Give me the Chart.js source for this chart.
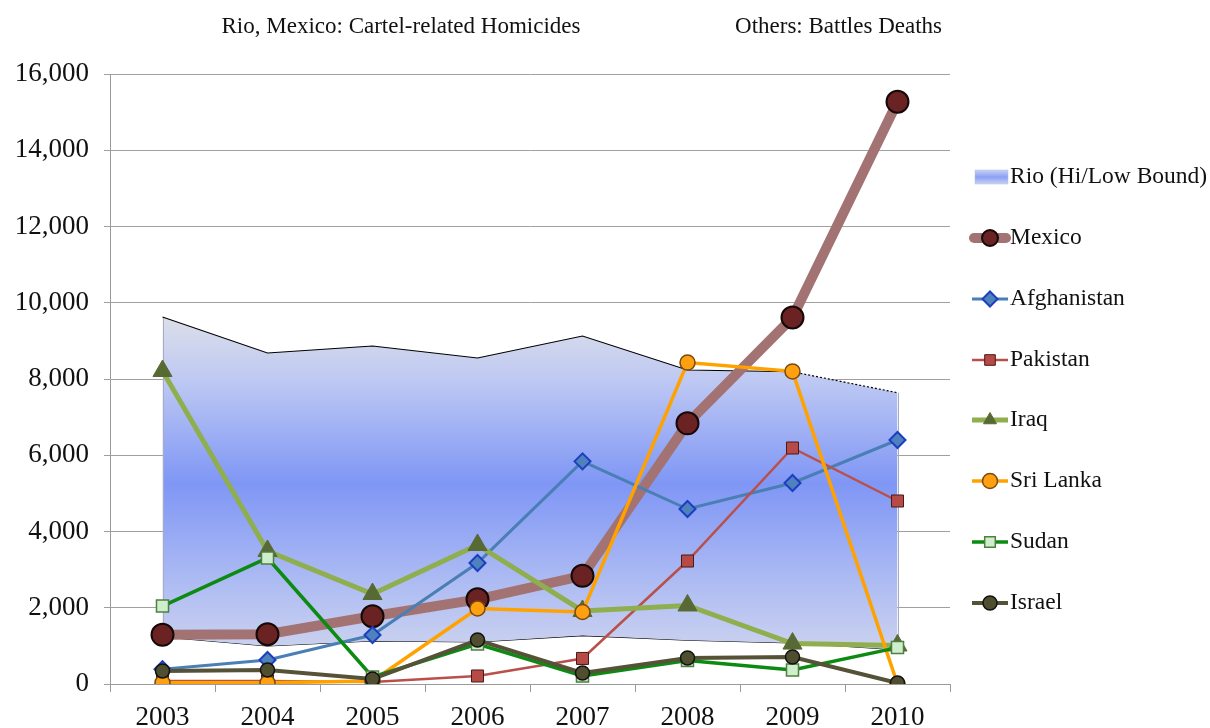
<!DOCTYPE html>
<html>
<head>
<meta charset="utf-8">
<script src="https://cdn.jsdelivr.net/npm/chart.js@4.4.1/dist/chart.umd.min.js"></script>
<style>
html,body{margin:0;padding:0;background:#fff;}
#wrap{position:relative;width:1210px;height:728px;}
</style>
</head>
<body>
<div id="wrap"><canvas id="c" width="1210" height="728"></canvas></div>
<script>
// ---- data ----
const years = ['2003','2004','2005','2006','2007','2008','2009','2010'];
const rioHigh = [9627, 8682, 8866, 8551, 9128, 8236, 8190, 7640];
const rioLow = [1233, 997, 1128, 1102, 1270, 1150, 1075, 900];
const mexico = [1290, 1304, 1776, 2221, 2837, 6837, 9614, 15273];
const afghanistan = [390, 630, 1285, 3174, 5840, 4590, 5272, 6400];
const pakistan = [80, 80, 50, 210, 670, 3226, 6190, 4800];
const iraq = [8210, 3490, 2360, 3646, 1915, 2060, 1060, 1010];
const sriLanka = [30, 30, 80, 1980, 1889, 8430, 8200, 0];
const sudan = [2045, 3305, 184, 1049, 210, 615, 367, 955];
const israel = [340, 367, 131, 1154, 288, 682, 708, 26];
const yTicks = [0, 2000, 4000, 6000, 8000, 10000, 12000, 14000, 16000];

const SERIF = '"Liberation Serif", "DejaVu Serif", serif';

function rioGradient(ctx, top, bot) {
  const g = ctx.createLinearGradient(0, top, 0, bot);
  g.addColorStop(0, '#dcdfe9');
  g.addColorStop(0.2, '#bcc7f3');
  g.addColorStop(0.5, '#7f96f5');
  g.addColorStop(0.8, '#aebcf3');
  g.addColorStop(1, '#cbd2ef');
  return g;
}

const series = [
  {label:'Mexico', data:mexico, borderColor:'#a37373', borderWidth:10, pointStyle:'circle', pointRadius:11, pointBackgroundColor:'#6a2222', pointBorderColor:'#150808', pointBorderWidth:2},
  {label:'Afghanistan', data:afghanistan, borderColor:'#4a7fb5', borderWidth:3, pointStyle:'rectRot', pointRadius:8, pointBackgroundColor:'#4f81bd', pointBorderColor:'#1c3fc0', pointBorderWidth:2},
  {label:'Pakistan', data:pakistan, borderColor:'#b9504c', borderWidth:2.5, pointStyle:'rect', pointRadius:8.5, pointBackgroundColor:'#b64a46', pointBorderColor:'#4a1a18', pointBorderWidth:1},
  {label:'Iraq', data:iraq, borderColor:'#8fae4e', borderWidth:5, pointStyle:'triangle', pointRadius:11, pointBackgroundColor:'#586a34', pointBorderColor:'#586a34', pointBorderWidth:1},
  {label:'Sri Lanka', data:sriLanka, borderColor:'#ffa200', borderWidth:3.5, pointStyle:'circle', pointRadius:7.5, pointBackgroundColor:'#ffa010', pointBorderColor:'#7a4a10', pointBorderWidth:1.5},
  {label:'Sudan', data:sudan, borderColor:'#0c8a12', borderWidth:3.5, pointStyle:'rect', pointRadius:8.5, pointBackgroundColor:'#cfeecb', pointBorderColor:'#4f7f42', pointBorderWidth:1.5},
  {label:'Israel', data:israel, borderColor:'#555238', borderWidth:4, pointStyle:'circle', pointRadius:7, pointBackgroundColor:'#4f4f30', pointBorderColor:'#111111', pointBorderWidth:1.5}
];

const N = series.length + 3;
const datasets = [];
datasets.push({label:'rioLow', data:rioLow, borderColor:'#000', borderWidth:1.2, pointRadius:0, fill:false, tension:0, order:N+2});
datasets.push({label:'Rio (Hi/Low Bound)', data:rioHigh, borderColor:'rgba(0,0,0,0)', borderWidth:0, pointRadius:0, fill:'-1', tension:0, order:N+1,
  backgroundColor: function(c){
    const ch = c.chart; if(!ch.chartArea) return 'rgba(127,150,245,0.6)';
    const y = ch.scales.y;
    return rioGradient(ch.ctx, y.getPixelForValue(Math.max(...rioHigh)), y.getPixelForValue(Math.min(...rioLow)));
  }});
datasets.push({label:'rioHighLine', data:rioHigh, borderColor:'#000', borderWidth:1.2, pointRadius:0, fill:false, tension:0, order:N,
  segment:{borderDash: c => c.p0DataIndex === 6 ? [2,2] : undefined}});
series.forEach((s, i) => {
  datasets.push(Object.assign({fill:false, tension:0, order:N - 3 - i, pointHoverRadius:s.pointRadius}, s));
});

function drawMarker(ctx, style, x, y, r, fill, stroke, lw) {
  ctx.save();
  ctx.fillStyle = fill; ctx.strokeStyle = stroke; ctx.lineWidth = lw;
  ctx.beginPath();
  if (style === 'circle') { ctx.arc(x, y, r, 0, Math.PI*2); }
  else if (style === 'rect') { const s = r/Math.SQRT2; ctx.rect(x-s, y-s, 2*s, 2*s); }
  else if (style === 'rectRot') { ctx.moveTo(x, y-r); ctx.lineTo(x+r, y); ctx.lineTo(x, y+r); ctx.lineTo(x-r, y); ctx.closePath(); }
  else if (style === 'triangle') {
    for (let k=0;k<3;k++){ const a = k*2*Math.PI/3; const px = x + Math.sin(a)*r, py = y - Math.cos(a)*r; if(k===0) ctx.moveTo(px,py); else ctx.lineTo(px,py);} ctx.closePath();
  }
  ctx.fill(); if (lw>0) ctx.stroke();
  ctx.restore();
}

const edges = {
  id:'edges',
  beforeDatasetDraw(chart, args){
    if (args.index !== 2) return;
    const ctx = chart.ctx, x = chart.scales.x, y = chart.scales.y;
    ctx.save();
    ctx.strokeStyle = '#a8acc0'; ctx.lineWidth = 1;
    [0, years.length-1].forEach(i => {
      const px = Math.round(x.getPixelForValue(i)) + 0.5;
      ctx.beginPath();
      ctx.moveTo(px, y.getPixelForValue(rioHigh[i]));
      ctx.lineTo(px, y.getPixelForValue(rioLow[i]));
      ctx.stroke();
    });
    ctx.restore();
  }
};

const decor = {
  id:'decor',
  afterDraw(chart){
    const ctx = chart.ctx;
    ctx.save();
    ctx.fillStyle = '#111';
    ctx.font = '23px ' + SERIF;
    ctx.textBaseline = 'alphabetic';
    ctx.textAlign = 'center';
    ctx.fillText('Rio, Mexico: Cartel-related Homicides', 401, 33);
    ctx.textAlign = 'right';
    ctx.fillText('Others: Battles Deaths', 942, 33);

    // legend
    const ys = [177, 238, 299, 360, 420, 481, 542, 603];
    ctx.font = '23.5px ' + SERIF;
    ctx.textAlign = 'left';
    ctx.textBaseline = 'middle';
    const g = ctx.createLinearGradient(0, ys[0]-7, 0, ys[0]+7);
    g.addColorStop(0, '#c8d2f6'); g.addColorStop(0.5, '#8aa0f4'); g.addColorStop(1, '#c8d2f6');
    ctx.fillStyle = g; ctx.fillRect(975, ys[0]-7, 33, 14);
    ctx.strokeStyle = '#b8c0e0'; ctx.lineWidth = 0.5; ctx.strokeRect(975, ys[0]-7, 33, 14);
    ctx.fillStyle = '#111';
    ctx.fillText('Rio (Hi/Low Bound)', 1010, ys[0]);
    series.forEach((s, i) => {
      const y = ys[i+1];
      ctx.save();
      ctx.strokeStyle = s.borderColor; ctx.lineWidth = s.borderWidth; ctx.lineCap = (i===0)?'round':'butt';
      ctx.beginPath();
      if (i === 0) { ctx.moveTo(974, y); ctx.lineTo(1006, y); }
      else { ctx.moveTo(972, y); ctx.lineTo(1008, y); }
      ctx.stroke();
      ctx.restore();
      const r = i===0 ? 8 : Math.min(s.pointRadius, 7.5);
      drawMarker(ctx, s.pointStyle, 990, y, r, s.pointBackgroundColor, s.pointBorderColor, s.pointBorderWidth);
      ctx.fillStyle = '#111';
      ctx.fillText(s.label, 1010, y);
    });
    ctx.restore();
  }
};

new Chart(document.getElementById('c'), {
  type:'line',
  data:{labels:years, datasets:datasets},
  plugins:[edges, decor],
  options:{
    responsive:false,
    animation:false,
    events:[],
    layout:{padding:{top:74, right:260, left:0, bottom:0}},
    plugins:{legend:{display:false}, tooltip:{enabled:false}, title:{display:false}},
    scales:{
      x:{
        type:'category',
        offset:true,
        grid:{offset:true, drawOnChartArea:false, drawTicks:true, tickLength:8, color:'#9a9a9a'},
        border:{color:'#9a9a9a', width:1},
        ticks:{font:{family:SERIF, size:27}, color:'#111', padding:10, maxRotation:0},
        afterFit(s){ s.height = 44; }
      },
      y:{
        min:0, max:16000,
        afterBuildTicks(s){ s.ticks = yTicks.map(v => ({value:v})); },
        grid:{color:'#a0a0a0', tickLength:6, lineWidth:1},
        border:{color:'#9a9a9a', width:1},
        ticks:{font:{family:SERIF, size:27}, color:'#111', padding:15,
          callback:v => v.toLocaleString('en-US')},
        afterFit(s){ s.width = 110; }
      }
    }
  }
});
</script>
</body>
</html>
